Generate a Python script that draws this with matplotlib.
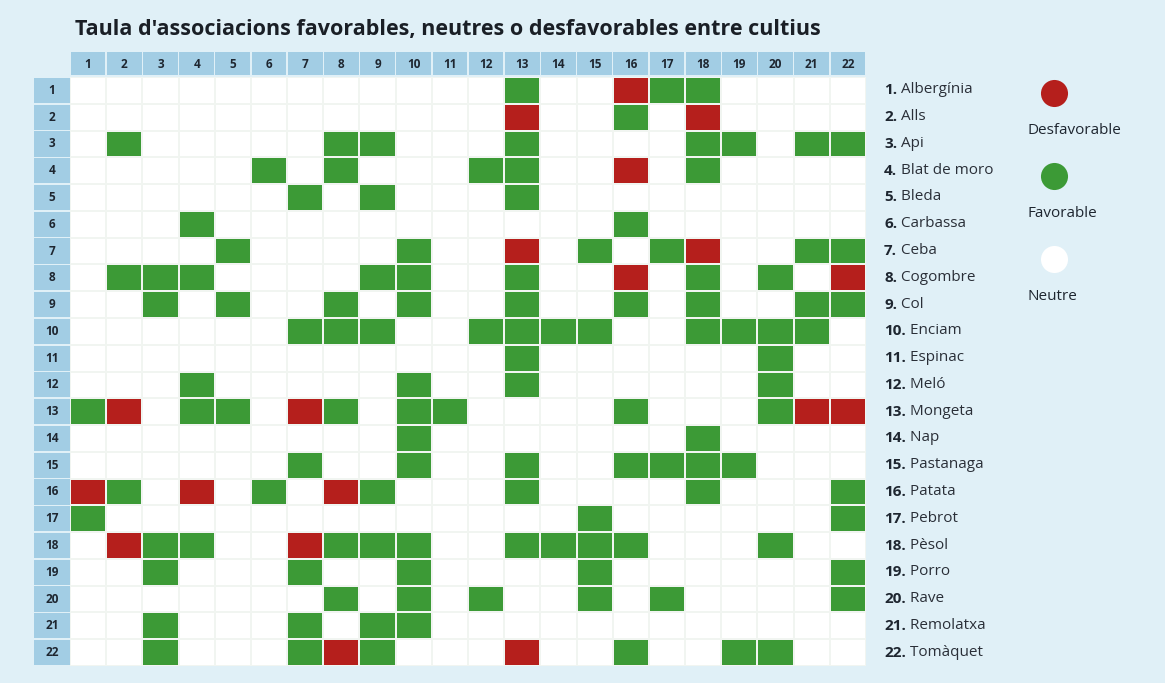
import matplotlib
matplotlib.use('Agg')
import matplotlib.pyplot as plt
import numpy as np
from matplotlib.colors import ListedColormap
from matplotlib.patches import Rectangle

plt.rcParams['font.family'] = ['Liberation Sans Narrow', 'Open Sans', 'DejaVu Sans']

TITLE = "Taula d'associacions favorables, neutres o desfavorables entre cultius"

cultius = ['Albergínia', 'Alls', 'Api', 'Blat de moro', 'Bleda', 'Carbassa',
           'Ceba', 'Cogombre', 'Col', 'Enciam', 'Espinac', 'Meló', 'Mongeta',
           'Nap', 'Pastanaga', 'Patata', 'Pebrot', 'Pèsol', 'Porro', 'Rave',
           'Remolatxa', 'Tomàquet']

# associacions per fila: columnes favorables i desfavorables
favorables = {
    1: [13, 17, 18],
    2: [16],
    3: [2, 8, 9, 13, 18, 19, 21, 22],
    4: [6, 8, 12, 13, 18],
    5: [7, 9, 13],
    6: [4, 16],
    7: [5, 10, 15, 17, 21, 22],
    8: [2, 3, 4, 9, 10, 13, 18, 20],
    9: [3, 5, 8, 10, 13, 16, 18, 21, 22],
    10: [7, 8, 9, 12, 13, 14, 15, 18, 19, 20, 21],
    11: [13, 20],
    12: [4, 10, 13, 20],
    13: [1, 4, 5, 8, 10, 11, 16, 20],
    14: [10, 18],
    15: [7, 10, 13, 16, 17, 18, 19],
    16: [2, 6, 9, 13, 18, 22],
    17: [1, 15, 22],
    18: [3, 4, 8, 9, 10, 13, 14, 15, 16, 20],
    19: [3, 7, 10, 15, 22],
    20: [8, 10, 12, 15, 17, 22],
    21: [3, 7, 9, 10],
    22: [3, 7, 9, 16, 19, 20],
}
desfavorables = {
    1: [16],
    2: [13, 18],
    4: [16],
    7: [13, 18],
    8: [16, 22],
    13: [2, 7, 21, 22],
    16: [1, 4, 8],
    18: [2, 7],
    22: [8, 13],
}
llegenda = ['Desfavorable', 'Favorable', 'Neutre']

GREEN = '#3c9a36'
RED = '#b51f1c'
HEADER = '#a2cde4'
BG = '#e0f0f7'
TXT = '#1e2630'

n = len(cultius)
mat = np.zeros((n, n))
for r, cols in favorables.items():
    for c in cols:
        mat[r - 1, c - 1] = 1
for r, cols in desfavorables.items():
    for c in cols:
        mat[r - 1, c - 1] = 2

W, H = 1165, 683
fig = plt.figure(figsize=(W / 100, H / 100), dpi=100)
fig.patch.set_facecolor(BG)

# graella principal
ax = fig.add_axes([70 / W, 1 - 666 / H, (866 - 70) / W, (666 - 77) / H])
ax.set_facecolor('white')
edges = np.arange(0.5, n + 1.5)
ax.pcolormesh(edges, edges, mat, cmap=ListedColormap(['white', GREEN, RED]),
              vmin=0, vmax=2, edgecolors='#f1f5f1', linewidth=1.2)
ax.set_xlim(0.5, n + 0.5)
ax.set_ylim(n + 0.5, 0.5)
ax.set_xticks([])
ax.set_yticks([])
for s in ax.spines.values():
    s.set_visible(False)

# capçaleres (numeros de columna i fila)
for i in range(1, n + 1):
    ax.add_patch(Rectangle((i - 0.5 + 0.02, -0.42), 0.96, 0.86, color=HEADER,
                           clip_on=False, lw=0))
    ax.text(i, 0.02, str(i), ha='center', va='center', fontsize=8.5,
            fontweight='bold', color=TXT, clip_on=False)
    ax.add_patch(Rectangle((-0.5, i - 0.5 + 0.03), 1.0, 0.94, color=HEADER,
                           clip_on=False, lw=0))
    ax.text(0.0, i, str(i), ha='center', va='center', fontsize=8.5,
            fontweight='bold', color=TXT, clip_on=False)

# llista de cultius
for i, nom in enumerate(cultius, start=1):
    t = ax.text(n + 1.0, i, f'{i}.', ha='left', va='center', fontsize=11,
                fontweight='bold', color=TXT, clip_on=False)
    ax.annotate(' ' + nom, xy=(1, 0), xycoords=t, ha='left', va='bottom',
                fontsize=11, color='#2a2f38')

# llegenda
lax = fig.add_axes([1000 / W, 1 - 320 / H, 160 / W, (320 - 70) / H])
lax.set_xlim(0, 1)
lax.set_ylim(3, 0)
lax.axis('off')
for k, (lab, col) in enumerate(zip(llegenda, [RED, GREEN, 'white'])):
    lax.scatter([0.34], [k + 0.27], s=380, color=col, lw=0, clip_on=False)
    lax.text(0.17, k + 0.72, lab, ha='left', va='center', fontsize=11,
             color=TXT)

fig.text(75 / W, 1 - 30 / H, TITLE, ha='left', va='center', fontsize=15.5,
         fontweight='bold', color='#1a1f26')

fig.savefig('out.png', dpi=100, facecolor=BG)
